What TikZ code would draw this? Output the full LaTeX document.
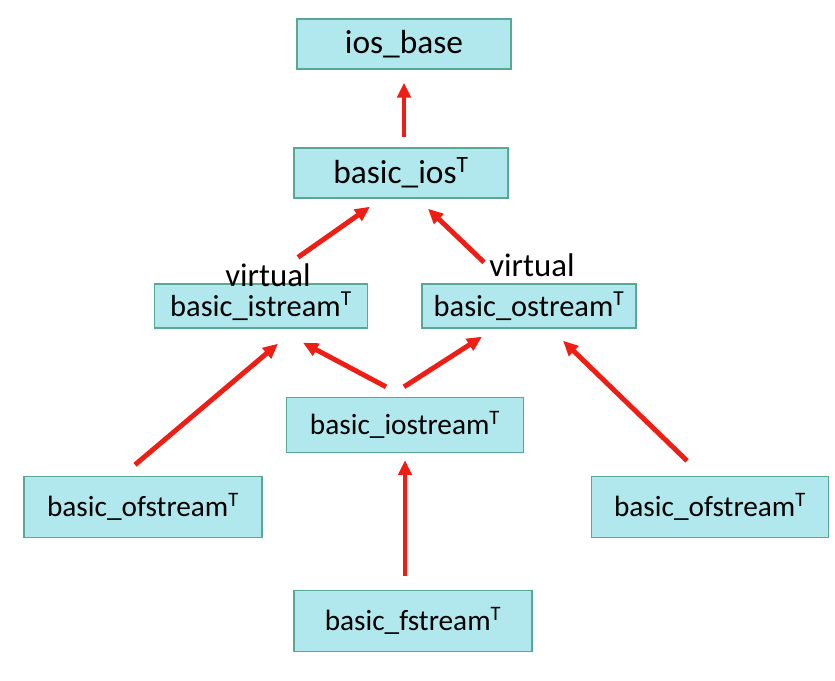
\documentclass[tikz,border=0pt]{standalone}
\usepackage{fontspec}
\setmainfont{Carlito}
\usepackage{xcolor}
\usetikzlibrary{shapes,arrows.meta,positioning,calc}

\definecolor{boxfill}{RGB}{176,232,238}
\definecolor{boxline}{RGB}{88,168,148}
\definecolor{arrowred}{RGB}{238,30,20}

\tikzset{
  cls/.style={draw=boxline, line width=1.2pt, fill=boxfill, rectangle, inner sep=0pt, font=\fontsize{25}{29}\selectfont},
  big/.style={font=\fontsize{28.5}{32}\selectfont},
  mid/.style={font=\fontsize{26}{30}\selectfont},
  inherit/.style={arrowred, line width=4.2pt, -{Triangle[length=0.45cm,width=0.4cm]}},
  vlabel/.style={inner sep=0pt, font=\fontsize{28}{32}\selectfont}
}

\begin{document}
\begin{tikzpicture}[x=0.03cm, y=-0.03cm]
  \useasboundingbox (0,0) rectangle (835,681);

  \node[cls, big, minimum width=6.42cm, minimum height=1.5cm] (iosbase) at (404,44) {ios\_base};
  \node[cls, big, minimum width=6.42cm, minimum height=1.5cm] (ios) at (401,173) {basic\_ios\textsuperscript{T}};
  \node[cls, mid, minimum width=6.39cm, minimum height=1.32cm] (istream) at (261,306) {basic\_istream\textsuperscript{T}};
  \node[cls, mid, minimum width=6.42cm, minimum height=1.32cm] (ostream) at (529,306) {basic\_ostream\textsuperscript{T}};
  \node[cls, minimum width=7.11cm, minimum height=1.65cm] (iostream) at (405,425) {basic\_iostream\textsuperscript{T}};
  \node[cls, minimum width=7.14cm, minimum height=1.83cm] (ofstreamL) at (143,507) {basic\_ofstream\textsuperscript{T}};
  \node[cls, minimum width=7.11cm, minimum height=1.83cm] (ofstreamR) at (710,507) {basic\_ofstream\textsuperscript{T}};
  \node[cls, minimum width=7.14cm, minimum height=1.83cm] (fstream) at (413,621) {basic\_fstream\textsuperscript{T}};

  \node[vlabel] (virtI) at ($(istream.north)+(7,-8)$) {virtual};
  \node[vlabel] (virtO) at ($(ostream.north)+(3,-18)$) {virtual};

  \draw[inherit] ($(ios.north)+(3,-10)$) -- ($(iosbase.south)+(0,13)$);
  \draw[inherit] ($(istream.north)+(37,-26)$) -- ($(ios.south)+(-31,8)$);
  \draw[inherit] ($(ostream.north)+(-45,-21)$) -- ($(ios.south)+(27,10)$);
  \draw[inherit] ($(iostream.north)+(-19,-10)$) -- ($(istream.south)+(42,14)$);
  \draw[inherit] ($(iostream.north)+(-1,-10)$) -- ($(ostream.south)+(-47,8)$);
  \draw[inherit] ($(ofstreamL.north)+(-8,-11)$) -- ($(istream.south)+(17,15)$);
  \draw[inherit] ($(ofstreamR.north)+(-23,-15)$) -- ($(ostream.south)+(34,12)$);
  \draw[inherit] ($(fstream.north)+(-8,-14)$) -- ($(iostream.south)+(0,7)$);
\end{tikzpicture}
\end{document}
